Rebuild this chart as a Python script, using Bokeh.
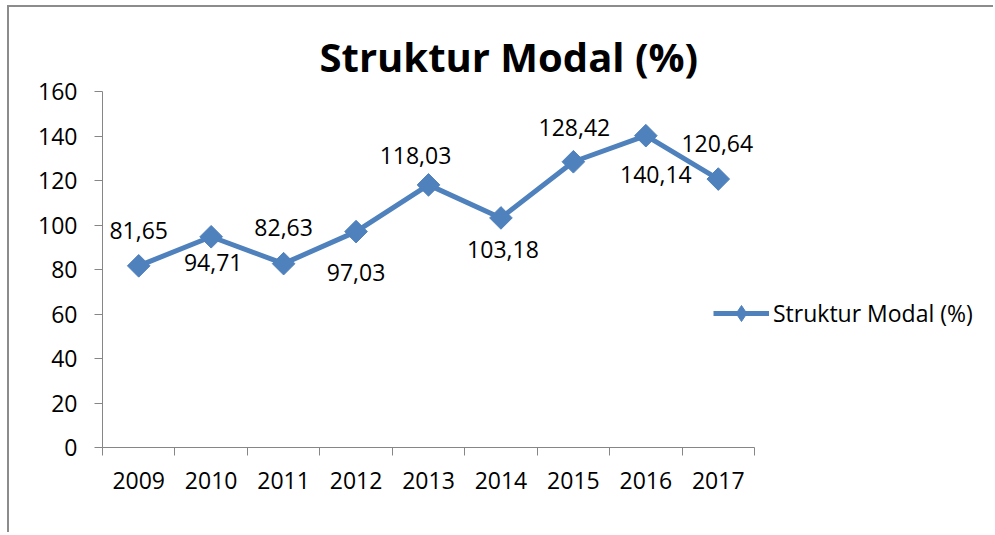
from bokeh.plotting import figure
from bokeh.models import (Range1d, FixedTicker, Legend, LegendItem, Title,
                          ColumnDataSource)
from bokeh.core.properties import value
from bokeh.embed import file_html
from bokeh.resources import INLINE
import numpy as np

# ---- data ----
years = ["2009", "2010", "2011", "2012", "2013", "2014", "2015", "2016", "2017"]
struktur_modal = [81.65, 94.71, 82.63, 97.03, 118.03, 103.18, 128.42, 140.14, 120.64]
y_ticks = [0, 20, 40, 60, 80, 100, 120, 140, 160]
title_text = "Struktur Modal (%)"
series_name = "Struktur Modal (%)"

# ---- label placement (screen px nudges, style only) ----
label_dx = [0, 2, 0, 0, -13, 2, 1, 10, -1]
label_dy = [-35, 26, -36, 41, -29, 32, -34, 39, -36]

FONT = "Open Sans"
BLUE = "#4F81BD"
AXIS_GRAY = "#868686"

# ---- layout (pixels) ----
W, H = 986, 527
B_LEFT, B_RIGHT, B_TOP, B_BOTTOM = 93, 10, 84, 87
FRAME_W = W - B_LEFT - B_RIGHT
AXIS_PX = 652  # visible length of the category axis

n = len(years)
x_pos = [i + 0.5 for i in range(n)]
labels = [f"{v:.2f}".replace(".", ",") for v in struktur_modal]

src = ColumnDataSource(dict(x=x_pos, y=struktur_modal, lbl=labels,
                            dx=label_dx, dy=label_dy))

p = figure(width=W, height=H, output_backend="svg", toolbar_location=None,
           x_range=Range1d(0, n * FRAME_W / AXIS_PX),
           y_range=Range1d(y_ticks[0], y_ticks[-1]),
           min_border_left=B_LEFT, min_border_right=B_RIGHT,
           min_border_top=B_TOP, min_border_bottom=B_BOTTOM)
p.styles = {"margin-left": "7px", "margin-top": "5px",
            "border-left": "2px solid #8c8c8c", "border-top": "2px solid #8c8c8c"}
p.outline_line_color = None
p.background_fill_color = "white"
p.border_fill_color = "white"
p.xgrid.visible = False
p.ygrid.visible = False

# title
p.title = Title(text=title_text, align="left", offset=217, standoff=16,
                text_font=FONT, text_font_size="40px", text_font_style="bold",
                text_color="black")

# y axis
p.yaxis.ticker = FixedTicker(ticks=y_ticks, minor_ticks=[])
p.yaxis.axis_line_color = AXIS_GRAY
p.yaxis.major_tick_line_color = AXIS_GRAY
p.yaxis.major_tick_out = 8
p.yaxis.major_tick_in = 0
p.yaxis.minor_tick_line_color = None
p.yaxis.major_label_text_font = FONT
p.yaxis.major_label_text_font_size = "23px"
p.yaxis.major_label_text_color = "black"
p.yaxis.major_label_standoff = 17

# x axis: labels at category centres, ticks at category boundaries
p.xaxis.bounds = (0, n)
p.xaxis.ticker = FixedTicker(ticks=x_pos, minor_ticks=list(range(n + 1)))
p.xaxis.major_label_overrides = {x: y for x, y in zip(x_pos, years)}
p.xaxis.axis_line_color = AXIS_GRAY
p.xaxis.major_tick_line_color = None
p.xaxis.major_tick_out = 0
p.xaxis.major_tick_in = 0
p.xaxis.minor_tick_line_color = AXIS_GRAY
p.xaxis.minor_tick_out = 8
p.xaxis.minor_tick_in = 0
p.xaxis.major_label_text_font = FONT
p.xaxis.major_label_text_font_size = "23px"
p.xaxis.major_label_text_color = "black"
p.xaxis.major_label_standoff = 16

line = p.line("x", "y", source=src, line_color=BLUE, line_width=5)
# diamond key used by the legend; in the plot it lies hidden under the
# rotated-square markers drawn next
legend_marker = p.scatter("x", "y", source=src, marker="diamond",
                          fill_color=BLUE, line_color=BLUE, size=16)
pts = p.scatter("x", "y", source=src, marker="square", angle=np.pi / 4, size=16,
                fill_color=BLUE, line_color=BLUE)

p.text("x", "y", text="lbl", source=src, x_offset="dx", y_offset="dy",
       text_align="center", text_baseline="middle",
       text_font=value(FONT), text_font_size="23px", text_color="black")

legend = Legend(items=[LegendItem(label=series_name, renderers=[line, legend_marker])],
                location=(611, 114), orientation="vertical",
                padding=0, margin=0, spacing=0,
                glyph_width=56, glyph_height=40, label_standoff=4,
                label_text_font=FONT, label_text_font_size="23px",
                label_text_color="black",
                border_line_color=None, background_fill_alpha=0)
p.add_layout(legend, "center")

open("out.html", "w").write(file_html(p, INLINE))
